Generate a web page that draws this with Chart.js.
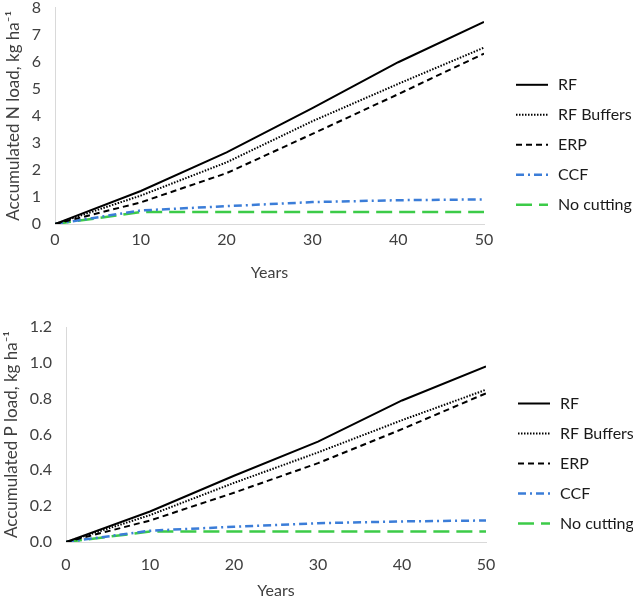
<!DOCTYPE html>
<html>
<head>
<meta charset="utf-8">
<script src="https://cdn.jsdelivr.net/npm/chart.js@4.4.1/dist/chart.umd.min.js"></script>
<style>
  html, body { margin: 0; padding: 0; background: #fff; overflow: hidden; }
  .panel { position: absolute; left: 0; width: 633px; }
  #top-panel { top: -16px; height: 308px; }
  #bottom-panel { top: 301px; height: 305px; }
</style>
</head>
<body>
<div class="panel" id="top-panel"><canvas id="n-chart"></canvas></div>
<div class="panel" id="bottom-panel"><canvas id="p-chart"></canvas></div>
<script>
// Years on the x axis
const years = [0, 10, 20, 30, 40, 50];
const seriesNames = ['RF', 'RF Buffers', 'ERP', 'CCF', 'No cutting'];

// Accumulated N load, kg/ha
const nRF = [0, 1.22, 2.65, 4.28, 5.98, 7.47];
const nRFBuffers = [0, 1.05, 2.28, 3.80, 5.18, 6.52];
const nERP = [0, 0.80, 1.88, 3.33, 4.80, 6.30];
const nCCF = [0, 0.50, 0.66, 0.81, 0.88, 0.91];
const nNoCutting = [0, 0.44, 0.44, 0.44, 0.44, 0.44];

// Accumulated P load, kg/ha
const pRF = [0, 0.17, 0.37, 0.56, 0.79, 0.98];
const pRFBuffers = [0, 0.15, 0.33, 0.50, 0.68, 0.85];
const pERP = [0, 0.12, 0.275, 0.44, 0.63, 0.83];
const pCCF = [0, 0.063, 0.085, 0.105, 0.115, 0.12];
const pNoCutting = [0, 0.058, 0.058, 0.058, 0.058, 0.058];

// y tick labels
const nTicks = ['0', '1', '2', '3', '4', '5', '6', '7', '8'];
const pTicks = ['0.0', '0.2', '0.4', '0.6', '0.8', '1.0', '1.2'];

const FONT = 'Lato, "Open Sans", sans-serif';

const lineStyles = [
  { borderColor: '#000000', borderWidth: 2, borderDash: [] },
  { borderColor: '#000000', borderWidth: 2, borderDash: [1.5, 1.5] },
  { borderColor: '#000000', borderWidth: 2, borderDash: [6, 4] },
  { borderColor: '#3b7dd8', borderWidth: 2.5, borderDash: [8, 4, 2, 4] },
  { borderColor: '#3ccb48', borderWidth: 2.5, borderDash: [16, 7] }
];

// legend on the right, drawn with each dataset's own line style
const sideLegend = {
  id: 'sideLegend',
  afterDraw: function(chart) {
    const ctx = chart.ctx;
    const area = chart.chartArea;
    const x0 = area.right + 32;
    const x1 = x0 + 32;
    const midY = (area.top + area.bottom) / 2 + 29;
    const step = 30;
    const n = chart.data.datasets.length;
    ctx.save();
    chart.data.datasets.forEach(function(ds, i) {
      const y = midY + (i - (n - 1) / 2) * step;
      ctx.beginPath();
      ctx.setLineDash(ds.borderDash || []);
      ctx.lineWidth = ds.borderWidth;
      ctx.strokeStyle = ds.borderColor;
      ctx.moveTo(x0, y);
      ctx.lineTo(x1, y);
      ctx.stroke();
      ctx.setLineDash([]);
      ctx.fillStyle = '#1a1a1a';
      ctx.font = '16px ' + FONT;
      ctx.textBaseline = 'middle';
      ctx.fillText(ds.label, x1 + 10, y);
    });
    ctx.restore();
  }
};

function makeDatasets(seriesList) {
  return seriesList.map(function(values, i) {
    return Object.assign({
      label: seriesNames[i],
      data: years.map(function(y, j) { return { x: y, y: values[j] }; }),
      pointRadius: 0,
      tension: 0,
      fill: false
    }, lineStyles[i]);
  });
}

function makeChart(canvasId, seriesList, yMax, yStep, yTicks, yTitle, opts) {
  return new Chart(document.getElementById(canvasId), {
    type: 'line',
    data: { datasets: makeDatasets(seriesList) },
    options: {
      responsive: true,
      maintainAspectRatio: false,
      animation: false,
      layout: { padding: opts.padding },
      plugins: {
        tooltip: { enabled: false },
        legend: { display: false }
      },
      scales: {
        x: {
          type: 'linear',
          min: 0,
          max: 50,
          afterFit: function(scale) { scale.height = opts.xHeight; },
          ticks: { stepSize: 10, color: '#404040', font: { family: FONT, size: 16 }, padding: opts.xTickPad, maxRotation: 0 },
          grid: { display: false, drawTicks: false },
          border: { display: true, color: '#d9d9d9', width: 1 },
          title: { display: true, text: 'Years', color: '#404040', font: { family: FONT, size: 16 }, padding: 0 }
        },
        y: {
          min: 0,
          max: yMax,
          afterFit: function(scale) { scale.width = opts.yWidth; },
          ticks: {
            stepSize: yStep,
            color: '#404040',
            font: { family: FONT, size: 16 },
            padding: 14,
            callback: function(value, index) { return yTicks[index]; }
          },
          grid: { display: false, drawTicks: false },
          border: { display: true, color: '#d9d9d9', width: 1 },
          title: { display: true, text: yTitle, color: '#404040', font: { family: FONT, size: 17 }, padding: 0 }
        }
      }
    },
    plugins: [sideLegend]
  });
}

makeChart('n-chart', [nRF, nRFBuffers, nERP, nCCF, nNoCutting], 8, 1, nTicks,
  'Accumulated N load, kg ha\u207B\u00B9',
  { padding: { top: 0, bottom: 10, left: 3, right: 149 }, xHeight: 58, xTickPad: 6, yWidth: 52 });
makeChart('p-chart', [pRF, pRFBuffers, pERP, pCCF, pNoCutting], 1.2, 0.2, pTicks,
  'Accumulated P load, kg ha\u207B\u00B9',
  { padding: { top: 26, bottom: 6, left: 1, right: 147 }, xHeight: 58, xTickPad: 13, yWidth: 65 });
</script>
</body>
</html>
